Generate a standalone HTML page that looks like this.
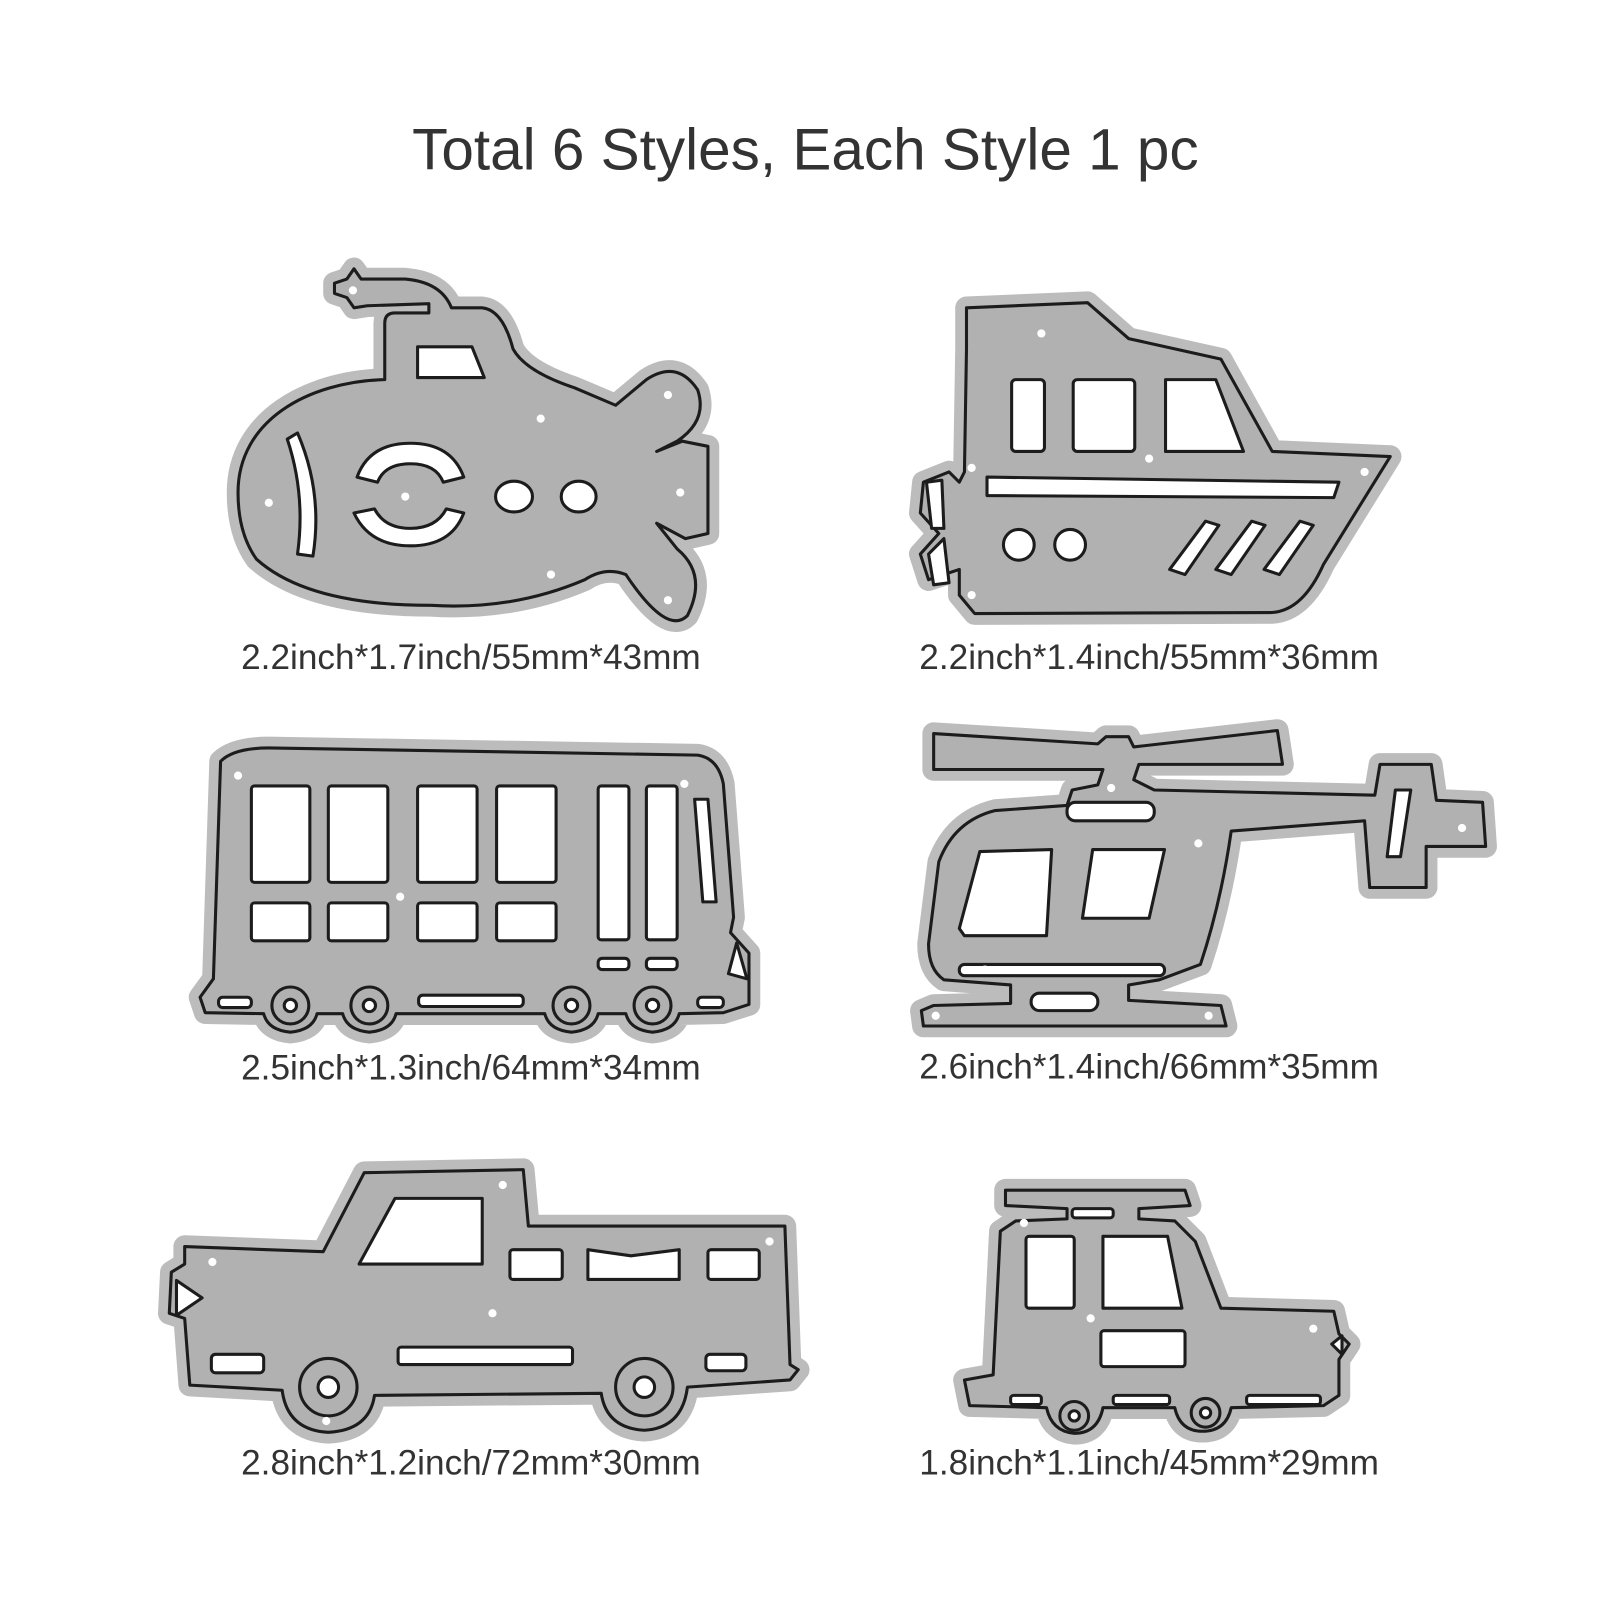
<!DOCTYPE html>
<html><head><style>
html,body{margin:0;padding:0;background:#fff}
svg{display:block}
.h{fill:#bcbcbc;stroke:#bcbcbc;stroke-width:22;stroke-linejoin:round}
.o{fill:#b1b1b1;stroke:#1c1c1c;stroke-width:3;stroke-linejoin:round}
.w{fill:#fff;stroke:#1c1c1c;stroke-width:3;stroke-linejoin:round}
.g{fill:#b1b1b1;stroke:#1c1c1c;stroke-width:3}
.d{fill:#fff}
text{font-family:"Liberation Sans",Arial,sans-serif;fill:#333}
</style></head><body>
<svg width="1600" height="1600" viewBox="0 0 1600 1600">
<g transform="scale(1.026)">
<text x="785" y="165" font-size="57" text-anchor="middle">Total 6 Styles, Each Style 1 pc</text>
<g font-size="34.3" text-anchor="middle">
<text x="459" y="652">2.2inch*1.7inch/55mm*43mm</text>
<text x="1120" y="652">2.2inch*1.4inch/55mm*36mm</text>
<text x="459" y="1052">2.5inch*1.3inch/64mm*34mm</text>
<text x="1120" y="1051">2.6inch*1.4inch/66mm*35mm</text>
<text x="459" y="1437">2.8inch*1.2inch/72mm*30mm</text>
<text x="1120" y="1437">1.8inch*1.1inch/45mm*29mm</text>
</g>
<defs>
<path id="sub" d="M232,480 C232,410 300,372 375,370 L375,315 Q375,305 385,305 L418,305 L418,296 L358,298 L345,300 L338,290 L326,286 L326,276 L338,272 L345,262 L352,272 L395,272 Q430,275 440,300 L470,300 Q490,302 500,340 Q512,362 560,378 L600,395 L630,370 Q660,350 680,380 Q690,410 660,430 L640,440 L665,430 L690,435 L690,520 L668,525 L640,510 L660,535 Q690,560 670,600 Q650,620 610,560 Q590,552 570,565 Q500,595 420,590 Q300,590 250,545 Q232,520 232,480 Z"/>
<path id="boat" d="M942,300 L1060,295 L1100,330 L1190,350 L1240,440 L1355,445 L1290,550 Q1270,595 1240,597 L950,598 L935,580 L935,555 L905,565 L897,540 L915,520 L897,500 L900,470 L925,460 L935,470 L940,460 L942,340 Z"/>
<path id="bus" d="M215,748 Q228,735 262,735 L680,742 Q700,745 705,770 L715,900 L712,915 L730,935 L730,985 L705,993 L662,994 Q658,1010 636,1012 Q614,1010 610,994 L583,994 Q579,1010 557,1012 Q535,1010 531,994 L386,994 Q382,1010 360,1012 Q338,1010 334,994 L309,994 Q305,1010 283,1012 Q261,1010 257,994 L200,993 L195,978 L208,960 Z"/>
<path id="heli" d="M910,715 L1070,725 L1078,718 L1100,718 L1105,728 L1245,712 L1250,745 L1110,745 L1105,760 L1125,770 L1340,775 L1345,745 L1395,745 L1400,780 L1445,782 L1448,825 L1390,825 L1390,865 L1335,865 L1330,800 L1200,810 Q1190,880 1170,940 L1130,955 L1100,960 L1100,975 L1190,980 L1195,1000 L900,1000 L898,985 L910,980 L985,978 L985,960 L920,955 Q905,945 905,920 L915,840 Q930,800 970,790 L1040,785 L1045,770 L1070,765 L1075,750 L910,750 Z"/>
<path id="truck" d="M180,1215 L315,1220 L355,1143 L510,1140 L515,1195 L765,1195 L770,1330 L778,1335 L770,1345 L670,1352 Q665,1392 628,1394 Q591,1392 586,1358 L365,1360 Q360,1394 320,1396 Q280,1394 275,1355 L185,1350 L180,1285 L165,1280 L167,1240 L180,1232 Z"/>
<path id="car" d="M980,1160 L1155,1160 L1160,1175 L1110,1178 L1110,1188 L1145,1190 L1165,1210 L1190,1275 L1300,1278 L1305,1300 L1315,1310 L1305,1325 L1305,1360 L1290,1370 L1200,1372 Q1195,1395 1172,1395 Q1150,1395 1145,1372 L1075,1372 Q1070,1397 1047,1397 Q1025,1395 1020,1372 L945,1370 L940,1345 L968,1340 L975,1200 L990,1190 L1040,1188 L1040,1178 L980,1175 Z"/>
</defs>
<g class="h"><use href="#sub"/><use href="#boat"/><use href="#bus" transform="translate(0,-6)"/><use href="#heli"/><use href="#truck"/><use href="#car"/></g>
<g class="o"><use href="#sub"/><use href="#boat"/><use href="#bus" transform="translate(0,-6)"/><use href="#heli"/><use href="#truck"/><use href="#car"/></g>
<g class="w">
<path d="M407,338 L460,338 L472,368 L407,368 Z"/>
<path d="M280,428 L290,422 Q315,480 305,542 L290,540 Q298,482 280,428 Z"/>
<path d="M348,465 Q360,432 400,432 Q440,432 452,465 L432,470 Q425,452 400,452 Q375,452 368,470 Z"/>
<path d="M345,500 L365,496 Q375,515 400,515 Q425,515 435,496 L452,500 Q440,532 400,532 Q360,532 345,500 Z"/>
<ellipse cx="501" cy="484" rx="18" ry="15"/><ellipse cx="564" cy="484" rx="17" ry="15"/>
</g>
<g class="d"><circle cx="344" cy="283" r="4"/><circle cx="527" cy="408" r="4"/><circle cx="651" cy="385" r="4"/><circle cx="262" cy="490" r="4"/><circle cx="395" cy="484" r="4"/><circle cx="537" cy="560" r="4"/><circle cx="651" cy="585" r="4"/><circle cx="663" cy="480" r="4"/></g>
<g class="w">
<rect x="986" y="370" width="32" height="70" rx="4"/>
<rect x="1046" y="370" width="60" height="70" rx="4"/>
<path d="M1136,370 L1185,370 L1212,440 L1136,440 Z"/>
<path d="M962,465 L1305,470 L1300,485 L962,483 Z"/>
<circle cx="993" cy="531" r="15"/><circle cx="1043" cy="531" r="15"/>
<path d="M1140,555 L1175,508 L1188,512 L1155,560 Z"/>
<path d="M1185,555 L1220,508 L1233,512 L1200,560 Z"/>
<path d="M1232,555 L1267,508 L1280,512 L1247,560 Z"/>
<path d="M903,470 L918,468 L920,515 L908,515 Z"/><path d="M905,540 L920,525 L925,568 L910,570 Z"/>
</g>
<g class="d"><circle cx="1015" cy="325" r="4"/><circle cx="1120" cy="447" r="4"/><circle cx="1330" cy="460" r="4"/><circle cx="947" cy="580" r="4"/><circle cx="947" cy="456" r="4"/></g>
<g transform="translate(0,-6)">
<g class="w">
<rect x="245" y="772" width="57" height="94" rx="3"/><rect x="320" y="772" width="58" height="94" rx="3"/>
<rect x="407" y="772" width="58" height="94" rx="3"/><rect x="484" y="772" width="58" height="94" rx="3"/>
<rect x="245" y="886" width="57" height="37" rx="3"/><rect x="320" y="886" width="58" height="37" rx="3"/>
<rect x="407" y="886" width="58" height="37" rx="3"/><rect x="484" y="886" width="58" height="37" rx="3"/>
<rect x="583" y="772" width="30" height="150" rx="3"/><rect x="630" y="772" width="30" height="150" rx="3"/>
<path d="M677,785 L690,785 L698,885 L685,885 Z"/>
<rect x="583" y="940" width="30" height="11" rx="4"/><rect x="630" y="940" width="30" height="11" rx="4"/>
<rect x="213" y="978" width="32" height="10" rx="4"/><rect x="408" y="976" width="102" height="11" rx="4"/><rect x="680" y="978" width="25" height="10" rx="4"/>
<path d="M718,925 L728,960 L710,955 Z"/>
</g>
<g class="g"><circle cx="283" cy="986" r="18"/><circle cx="360" cy="986" r="18"/><circle cx="557" cy="986" r="18"/><circle cx="636" cy="986" r="18"/></g>
<g class="w"><circle cx="283" cy="986" r="6"/><circle cx="360" cy="986" r="6"/><circle cx="557" cy="986" r="6"/><circle cx="636" cy="986" r="6"/></g>
<g class="d"><circle cx="232" cy="762" r="4"/><circle cx="390" cy="880" r="4"/><circle cx="667" cy="770" r="4"/></g>
</g>
<g class="w">
<rect x="1040" y="782" width="85" height="18" rx="8"/>
<path d="M935,905 L955,830 L1025,828 L1020,912 L940,912 Z"/>
<path d="M1065,828 L1135,828 L1120,895 L1055,895 Z"/>
<rect x="935" y="940" width="200" height="11" rx="5"/>
<rect x="1005" y="968" width="65" height="17" rx="8"/>
<path d="M1360,770 L1375,770 L1365,835 L1352,835 Z"/>
</g>
<g class="d"><circle cx="1083" cy="768" r="4"/><circle cx="1168" cy="822" r="4"/><circle cx="1425" cy="807" r="4"/><circle cx="912" cy="990" r="4"/><circle cx="1178" cy="990" r="4"/><circle cx="960" cy="945" r="4"/></g>
<g class="w">
<path d="M350,1232 L385,1168 L470,1168 L470,1232 Z"/>
<rect x="497" y="1218" width="51" height="29" rx="3"/>
<path d="M573,1218 L615,1224 L662,1218 L662,1247 L573,1247 Z"/>
<rect x="690" y="1218" width="50" height="29" rx="3"/>
<rect x="388" y="1313" width="170" height="17" rx="3"/>
<rect x="206" y="1320" width="51" height="18" rx="4"/><rect x="688" y="1320" width="39" height="16" rx="4"/>
<path d="M172,1248 L197,1265 L172,1282 Z"/>
</g>
<g class="g"><circle cx="320" cy="1352" r="28"/><circle cx="628" cy="1352" r="28"/></g>
<g class="w"><circle cx="320" cy="1352" r="10"/><circle cx="628" cy="1352" r="10"/></g>
<g class="d"><circle cx="207" cy="1230" r="4"/><circle cx="490" cy="1155" r="4"/><circle cx="750" cy="1210" r="4"/><circle cx="480" cy="1280" r="4"/><circle cx="318" cy="1385" r="4"/></g>
<g class="w">
<rect x="1000" y="1205" width="47" height="70" rx="3"/>
<path d="M1075,1205 L1138,1205 L1152,1275 L1075,1275 Z"/>
<rect x="1073" y="1297" width="82" height="35" rx="3"/>
<rect x="985" y="1360" width="30" height="9" rx="3"/><rect x="1085" y="1360" width="55" height="9" rx="3"/><rect x="1215" y="1360" width="72" height="9" rx="3"/>
<rect x="1045" y="1178" width="40" height="9" rx="3"/>
<path d="M1298,1310 L1308,1302 L1308,1320 Z"/>
</g>
<g class="g"><circle cx="1047" cy="1380" r="14"/><circle cx="1175" cy="1377" r="14"/></g>
<g class="w"><circle cx="1047" cy="1380" r="5"/><circle cx="1175" cy="1377" r="5"/></g>
<g class="d"><circle cx="998" cy="1192" r="4"/><circle cx="1063" cy="1285" r="4"/><circle cx="1280" cy="1295" r="4"/></g>
</g>
</svg>
</body></html>
